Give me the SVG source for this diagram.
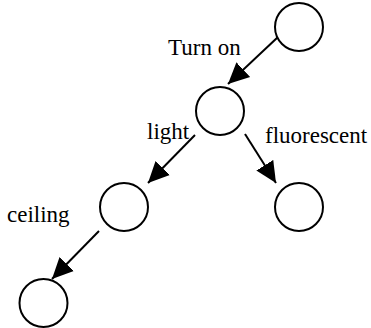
<svg xmlns="http://www.w3.org/2000/svg" width="371" height="328" viewBox="0 0 371 328">
  <style>
    .node circle { fill: #fff; stroke: #000; stroke-width: 2; }
    .edge { stroke: #000; stroke-width: 2; fill: none; marker-end: url(#arrow); }
  </style>
  <defs>
    <marker id="arrow" markerUnits="userSpaceOnUse" markerWidth="22" markerHeight="22" viewBox="0 0 22 22" refX="21" refY="11" orient="auto">
      <path d="M0,1 L21,11 L0,21 Z" fill="#000"/>
    </marker>
  </defs>
  <rect width="371" height="328" fill="#fff"/>
  <g id="connectors">
    <line class="edge" x1="278" y1="37" x2="228" y2="84"/>
    <line class="edge" x1="195" y1="135" x2="148" y2="183"/>
    <line class="edge" x1="245" y1="134" x2="276" y2="183"/>
    <line class="edge" x1="99" y1="231" x2="52" y2="279"/>
  </g>
  <g id="n1" class="node"><circle cx="299" cy="27" r="24"/></g>
  <g id="n2" class="node"><circle cx="220" cy="111" r="24"/></g>
  <g id="n3" class="node"><circle cx="124" cy="207" r="24"/></g>
  <g id="n4" class="node"><circle cx="299" cy="207" r="24"/></g>
  <g id="n5" class="node"><circle cx="43.5" cy="303" r="24"/></g>
  <g id="labels" font-family="Liberation Serif, DejaVu Serif, serif" font-size="23" fill="#000">
    <text x="168" y="55">Turn on</text>
    <text x="147" y="139">light</text>
    <text x="265" y="143">fluorescent</text>
    <text x="7" y="222">ceiling</text>
  </g>
</svg>
